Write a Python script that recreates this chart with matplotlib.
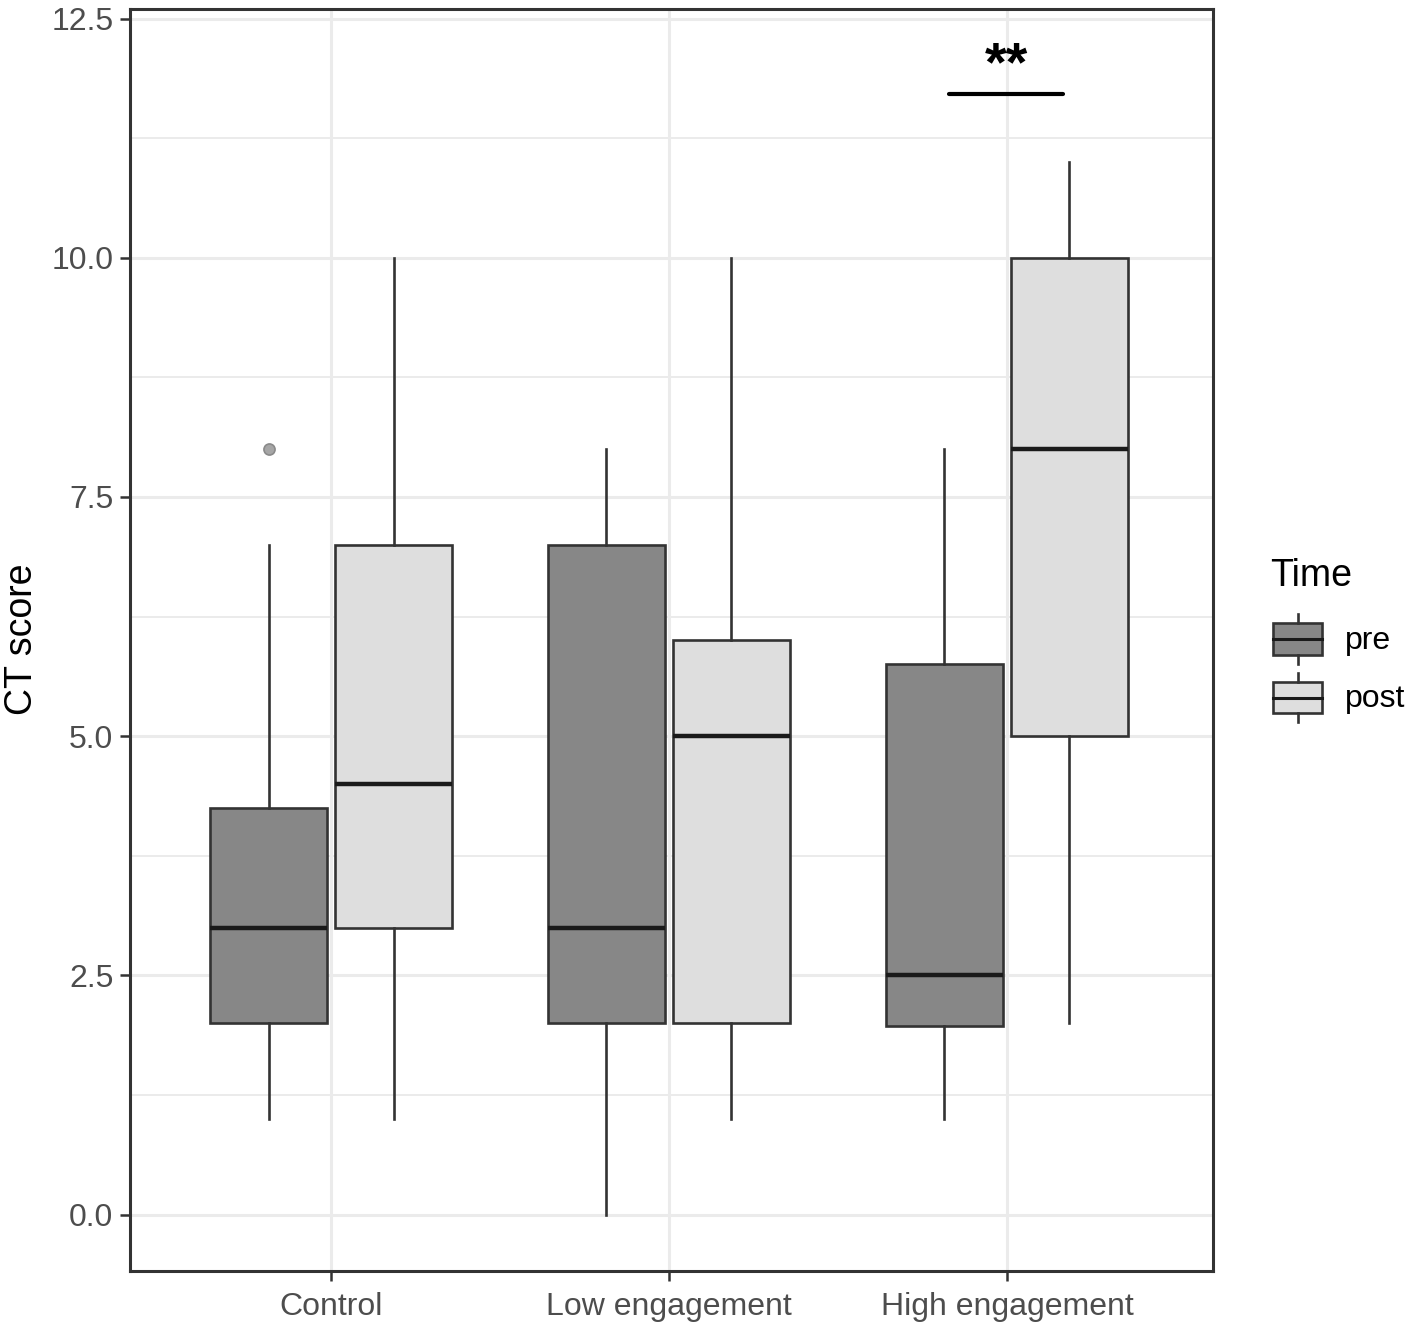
import matplotlib
matplotlib.use("Agg")
import matplotlib.pyplot as plt
from matplotlib.patches import Rectangle
from matplotlib.ticker import MultipleLocator

plt.rcParams['font.family'] = ['Liberation Sans', 'DejaVu Sans']

# data
groups = ["Control", "Low engagement", "High engagement"]
times = ["pre", "post"]
whislo = {"pre": [1, 0, 1], "post": [1, 1, 2]}
q1 = {"pre": [2, 2, 1.97], "post": [3, 2, 5]}
med = {"pre": [3, 3, 2.5], "post": [4.5, 5, 8]}
q3 = {"pre": [4.25, 7, 5.75], "post": [7, 6, 10]}
whishi = {"pre": [7, 8, 8], "post": [10, 10, 11]}
fliers = {"pre": [[8], [], []], "post": [[], [], []]}
fills = {"pre": "#878787", "post": "#DEDEDE"}

sig_group = "High engagement"
sig_label = "**"
sig_y = 11.71

edge = "#333333"
W, H = 1415, 1329
fig = plt.figure(figsize=(W / 100, H / 100), dpi=100)
ax = fig.add_axes([130 / W, 1 - 1271 / H, 1083 / W, 1262 / H])

offset = {"pre": -0.185, "post": 0.185}
for t in times:
    stats = []
    for i, g in enumerate(groups):
        stats.append(dict(whislo=whislo[t][i], q1=q1[t][i], med=med[t][i],
                          q3=q3[t][i], whishi=whishi[t][i], fliers=fliers[t][i]))
    pos = [i + 1 + offset[t] for i in range(len(groups))]
    ax.bxp(stats, positions=pos, widths=0.345, patch_artist=True,
           showcaps=False, manage_ticks=False,
           boxprops=dict(facecolor=fills[t], edgecolor=edge, linewidth=1.9),
           whiskerprops=dict(color=edge, linewidth=1.9),
           medianprops=dict(color="#1a1a1a", linewidth=3.2),
           flierprops=dict(marker="o", markersize=8, markerfacecolor="#a6a6a6",
                           markeredgecolor="#8a8a8a", markeredgewidth=1.2),
           zorder=3)

# significance bar
gx = groups.index(sig_group) + 1
ax.plot([gx - 0.17, gx + 0.165], [sig_y, sig_y], color="black", lw=3, zorder=4,
        solid_capstyle="round")
ax.text(gx, sig_y + 0.02, sig_label, ha="center", va="bottom", fontsize=40,
        fontweight="bold", color="black")

ax.set_xlim(0.405, 3.61)
ax.set_xticks(range(1, len(groups) + 1))
ax.set_xticklabels(groups)
ax.yaxis.set_major_locator(MultipleLocator(2.5))
ax.yaxis.set_minor_locator(MultipleLocator(1.25))
ax.set_ylim(-0.59, 12.6)
ax.set_yticks([0, 2.5, 5, 7.5, 10, 12.5])
ax.set_yticklabels(["0.0", "2.5", "5.0", "7.5", "10.0", "12.5"])

ax.grid(which="major", color="#EBEBEB", lw=2.2, zorder=0)
ax.grid(which="minor", axis="y", color="#EBEBEB", lw=1.4, zorder=0)
ax.set_axisbelow(True)
ax.tick_params(which="major", length=7, width=1.8, color=edge, labelsize=23,
               labelcolor="#4D4D4D", pad=5)
ax.tick_params(axis="x", pad=8)
ax.tick_params(which="minor", length=0)
for s in ax.spines.values():
    s.set_color(edge)
    s.set_linewidth(2.2)

fig.text(22 / W, 1 - 639 / H, "CT score", rotation=90, ha="center", va="center",
         fontsize=27, color="black")

# legend
lg = fig.add_axes([0, 0, 1, 1], zorder=5)
lg.set_xlim(0, W)
lg.set_ylim(H, 0)
lg.axis("off")
lg.text(1270, 576, "Time", ha="left", va="center", fontsize=27)
for t, (top, bot) in zip(times, [(623, 655), (682, 713)]):
    lg.add_patch(Rectangle((1273, top), 49, bot - top, facecolor=fills[t],
                           edgecolor=edge, lw=1.9))
    mid = (top + bot) / 2
    lg.plot([1273, 1322], [mid, mid], color="#1a1a1a", lw=2.2)
    lg.plot([1297.5, 1297.5], [top - 9, top], color=edge, lw=1.9)
    lg.plot([1297.5, 1297.5], [bot, bot + 9], color=edge, lw=1.9)
    lg.text(1345, mid + 2, t, ha="left", va="center", fontsize=23, color="black")

fig.savefig("out.png", dpi=100, facecolor="white")
